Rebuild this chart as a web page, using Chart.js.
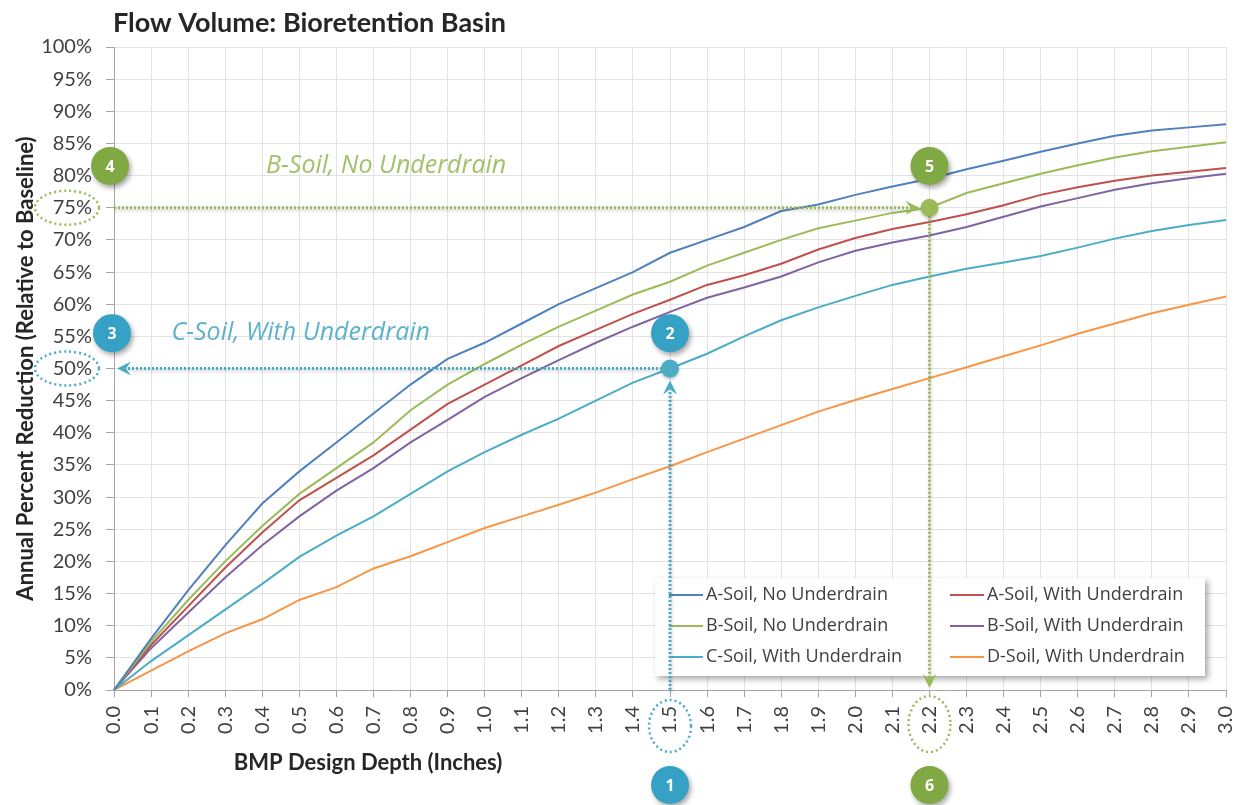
<!DOCTYPE html>
<html>
<head>
<meta charset="utf-8">
<script src="https://cdn.jsdelivr.net/npm/chart.js@4.4.0/dist/chart.umd.min.js"></script>
<style>
  body { margin: 0; background: #fff; }
  #wrap { width: 1239px; height: 805px; }
</style>
</head>
<body>
<div id="wrap"><canvas id="flowChart" width="1239" height="805"></canvas></div>
<script>
// depth categories (inches)
const depths = ['0.0','0.1','0.2','0.3','0.4','0.5','0.6','0.7','0.8','0.9',
                '1.0','1.1','1.2','1.3','1.4','1.5','1.6','1.7','1.8','1.9',
                '2.0','2.1','2.2','2.3','2.4','2.5','2.6','2.7','2.8','2.9','3.0'];

// annual percent reduction
const aSoilNoUd   = [0, 8, 15.5, 22.5, 29, 34, 38.5, 43, 47.5, 51.5, 54, 57, 60, 62.5, 65, 68, 70, 72, 74.5, 75.5, 77, 78.3, 79.5, 81, 82.3, 83.7, 85, 86.2, 87, 87.5, 88];
const bSoilNoUd   = [0, 7.5, 14, 20, 25.5, 30.5, 34.5, 38.5, 43.5, 47.5, 50.7, 53.7, 56.5, 59, 61.5, 63.5, 66, 68, 70, 71.8, 73, 74.2, 75, 77.3, 78.8, 80.3, 81.6, 82.8, 83.8, 84.5, 85.2];
const cSoilWithUd = [0, 4.5, 8.5, 12.5, 16.5, 20.7, 24, 27, 30.5, 34, 37, 39.7, 42.2, 45, 47.8, 50, 52.3, 55, 57.5, 59.5, 61.3, 63, 64.3, 65.5, 66.5, 67.5, 68.8, 70.2, 71.4, 72.3, 73.1];
const aSoilWithUd = [0, 7, 13, 19, 24.5, 29.5, 33, 36.5, 40.5, 44.5, 47.5, 50.5, 53.5, 56, 58.5, 60.7, 63, 64.5, 66.3, 68.5, 70.3, 71.7, 72.8, 74, 75.4, 77, 78.2, 79.2, 80, 80.6, 81.2];
const bSoilWithUd = [0, 6.5, 12, 17.5, 22.5, 27, 31, 34.5, 38.5, 42, 45.6, 48.5, 51.3, 54, 56.5, 58.8, 61, 62.6, 64.3, 66.5, 68.3, 69.6, 70.7, 72, 73.6, 75.2, 76.5, 77.8, 78.8, 79.6, 80.3];
const dSoilWithUd = [0, 3, 6, 8.8, 11, 14, 16, 18.9, 20.8, 23, 25.2, 27, 28.8, 30.7, 32.8, 34.8, 37, 39.1, 41.2, 43.3, 45.1, 46.8, 48.5, 50.2, 51.9, 53.6, 55.4, 57, 58.6, 59.9, 61.2];

// worked lookups shown on the chart
const bLookup = { depth: '2.2', value: 75 };
const cLookup = { depth: '1.5', value: 50 };

const GREEN = '#9bbb59', TEAL = '#4bacc6';
const GREEN_BADGE = '#80a843', TEAL_BADGE = '#35a2c5';

function dotted(ctx, x1, y1, x2, y2, color) {
    ctx.save();
    ctx.strokeStyle = color;
    ctx.lineWidth = 3;
    ctx.setLineDash([2, 2]);
    ctx.shadowColor = 'rgba(0,0,0,0.25)';
    ctx.shadowBlur = 3;
    ctx.shadowOffsetX = 1;
    ctx.shadowOffsetY = 2;
    ctx.beginPath();
    ctx.moveTo(x1, y1);
    ctx.lineTo(x2, y2);
    ctx.stroke();
    ctx.restore();
}

function arrow(ctx, x, y, angle, color) {
    ctx.save();
    ctx.translate(x, y);
    ctx.rotate(angle);
    ctx.fillStyle = color;
    ctx.beginPath();
    ctx.moveTo(0, 0);
    ctx.lineTo(-14, -7);
    ctx.lineTo(-9, 0);
    ctx.lineTo(-14, 7);
    ctx.closePath();
    ctx.fill();
    ctx.restore();
}

function dot(ctx, x, y, color) {
    ctx.save();
    ctx.fillStyle = color;
    ctx.shadowColor = 'rgba(0,0,0,0.25)';
    ctx.shadowBlur = 3;
    ctx.shadowOffsetY = 2;
    ctx.beginPath();
    ctx.arc(x, y, 9, 0, Math.PI * 2);
    ctx.fill();
    ctx.restore();
}

function badge(ctx, x, y, num, color) {
    ctx.save();
    ctx.shadowColor = 'rgba(0,0,0,0.35)';
    ctx.shadowBlur = 5;
    ctx.shadowOffsetX = 2;
    ctx.shadowOffsetY = 3;
    ctx.fillStyle = color;
    ctx.beginPath();
    ctx.arc(x, y, 19, 0, Math.PI * 2);
    ctx.fill();
    ctx.restore();
    ctx.save();
    ctx.fillStyle = '#fff';
    ctx.font = 'bold 16px "Open Sans"';
    ctx.textAlign = 'center';
    ctx.textBaseline = 'middle';
    ctx.fillText(num, x, y + 1);
    ctx.restore();
}

function ring(ctx, x, y, rx, ry, color) {
    ctx.save();
    ctx.strokeStyle = color;
    ctx.lineWidth = 2.5;
    ctx.setLineDash([2, 3]);
    ctx.beginPath();
    ctx.ellipse(x, y, rx, ry, 0, 0, Math.PI * 2);
    ctx.stroke();
    ctx.restore();
}

const callouts = {
    id: 'callouts',
    afterDraw(chart) {
        const { ctx, chartArea: area, scales: { x, y } } = chart;

        // title
        ctx.save();
        ctx.fillStyle = '#262626';
        ctx.font = 'bold 27px Lato';
        ctx.textBaseline = 'middle';
        ctx.fillText('Flow Volume: Bioretention Basin', area.left - 1, 23);

        // x axis title (sits left of centre in the original)
        ctx.font = 'bold 22px Lato';
        ctx.textAlign = 'center';
        ctx.fillText('BMP Design Depth (Inches)', area.left + 254, area.bottom + 73);
        ctx.restore();

        // legend box
        const lx = area.right - 571, ly = area.bottom - 112;
        ctx.save();
        ctx.shadowColor = 'rgba(0,0,0,0.35)';
        ctx.shadowBlur = 6;
        ctx.shadowOffsetX = 3;
        ctx.shadowOffsetY = 3;
        ctx.fillStyle = '#fff';
        ctx.fillRect(lx, ly, 550, 98);
        ctx.restore();
        const order = [[0, 1, 2], [3, 4, 5]];
        const colX = [lx + 14, lx + 295];
        ctx.save();
        ctx.font = '18px "Open Sans"';
        ctx.textBaseline = 'middle';
        ctx.fillStyle = '#404040';
        order.forEach((col, c) => {
            col.forEach((di, r) => {
                const ds = chart.data.datasets[di];
                const ry = ly + 17 + r * 31;
                ctx.strokeStyle = ds.borderColor;
                ctx.lineWidth = 2;
                ctx.beginPath();
                ctx.moveTo(colX[c], ry);
                ctx.lineTo(colX[c] + 34, ry);
                ctx.stroke();
                ctx.fillText(ds.label, colX[c] + 37, ry);
            });
        });
        ctx.restore();

        const lblRight = y.right - 8 - 14;

        // B-soil lookup: depth 2.2 -> 75%
        const bx = x.getPixelForValue(depths.indexOf(bLookup.depth));
        const by = y.getPixelForValue(bLookup.value);
        dotted(ctx, area.left, by, bx - 12, by, GREEN);
        arrow(ctx, bx - 10, by, 0, GREEN);
        dotted(ctx, bx, by, bx, area.bottom - 8, GREEN);
        arrow(ctx, bx, area.bottom - 2, Math.PI / 2, GREEN);
        dot(ctx, bx, by, GREEN);
        ring(ctx, lblRight - 25, by, 32, 17, GREEN);
        ring(ctx, bx, area.bottom + 34, 21, 28, GREEN);

        // C-soil lookup: depth 1.5 -> 50%
        const cx = x.getPixelForValue(depths.indexOf(cLookup.depth));
        const cy = y.getPixelForValue(cLookup.value);
        dotted(ctx, cx, cy, area.left + 10, cy, TEAL);
        arrow(ctx, area.left + 3, cy, Math.PI, TEAL);
        dotted(ctx, cx, area.bottom, cx, cy + 22, TEAL);
        arrow(ctx, cx, cy + 12, -Math.PI / 2, TEAL);
        dot(ctx, cx, cy, TEAL);
        ring(ctx, lblRight - 25, cy, 32, 17, TEAL);
        ring(ctx, cx, area.bottom + 36, 21, 26, TEAL);

        // italic captions
        ctx.save();
        ctx.font = 'italic 25px "Open Sans"';
        ctx.textBaseline = 'middle';
        ctx.fillStyle = '#a3c16b';
        ctx.fillText('B-Soil, No Underdrain', x.getPixelForValue(4.1), y.getPixelForValue(81.5));
        ctx.fillStyle = '#5db3cb';
        ctx.fillText('C-Soil, With Underdrain', x.getPixelForValue(1.55), y.getPixelForValue(55.5));
        ctx.restore();

        // numbered badges
        badge(ctx, area.left - 4, y.getPixelForValue(81.5), '4', GREEN_BADGE);
        badge(ctx, bx, y.getPixelForValue(81.5), '5', GREEN_BADGE);
        badge(ctx, bx, area.bottom + 95, '6', GREEN_BADGE);
        badge(ctx, area.left - 2, y.getPixelForValue(55.5), '3', TEAL_BADGE);
        badge(ctx, cx, y.getPixelForValue(55.5), '2', TEAL_BADGE);
        badge(ctx, cx, area.bottom + 95, '1', TEAL_BADGE);
    }
};

function line(label, data, color) {
    return { label: label, data: data, borderColor: color, backgroundColor: color,
             borderWidth: 2, pointRadius: 0, tension: 0, fill: false };
}

const ctx = document.getElementById('flowChart').getContext('2d');
const flowChart = new Chart(ctx, {
    type: 'line',
    data: {
        labels: depths,
        datasets: [
            line('A-Soil, No Underdrain', aSoilNoUd, '#4f81bd'),
            line('B-Soil, No Underdrain', bSoilNoUd, '#9bbb59'),
            line('C-Soil, With Underdrain', cSoilWithUd, '#4bacc6'),
            line('A-Soil, With Underdrain', aSoilWithUd, '#c0504d'),
            line('B-Soil, With Underdrain', bSoilWithUd, '#8064a2'),
            line('D-Soil, With Underdrain', dSoilWithUd, '#f79646')
        ]
    },
    options: {
        responsive: false,
        animation: false,
        devicePixelRatio: 1,
        layout: { padding: { top: 47, right: 13, left: 0, bottom: 0 } },
        plugins: { legend: { display: false }, tooltip: { enabled: false }, title: { display: false } },
        scales: {
            x: {
                type: 'category',
                offset: false,
                afterFit: function(scale) {
                    scale.height = 115;
                    scale.paddingLeft = 0;
                    scale.paddingRight = 0;
                },
                grid: { color: '#e3e3e3', tickColor: '#a6a6a6', tickLength: 7, offset: false },
                border: { color: '#a6a6a6' },
                ticks: {
                    autoSkip: false, minRotation: 90, maxRotation: 90, padding: 9,
                    color: '#404040', font: { family: 'Lato', size: 20 }
                }
            },
            y: {
                min: 0,
                max: 100,
                afterFit: function(scale) { scale.width = 114; },
                grid: { color: '#e3e3e3', tickColor: '#a6a6a6', tickLength: 8 },
                border: { color: '#a6a6a6' },
                ticks: {
                    stepSize: 5, padding: 14, color: '#404040',
                    font: { family: 'Lato', size: 20 },
                    callback: function(v) { return v + '%'; }
                },
                title: {
                    display: true,
                    text: 'Annual Percent Reduction (Relative to Baseline)',
                    color: '#262626',
                    font: { family: 'Lato', size: 22, weight: 'bold' },
                    padding: { top: 13 }
                }
            }
        }
    },
    plugins: [callouts]
});
</script>
</body>
</html>
